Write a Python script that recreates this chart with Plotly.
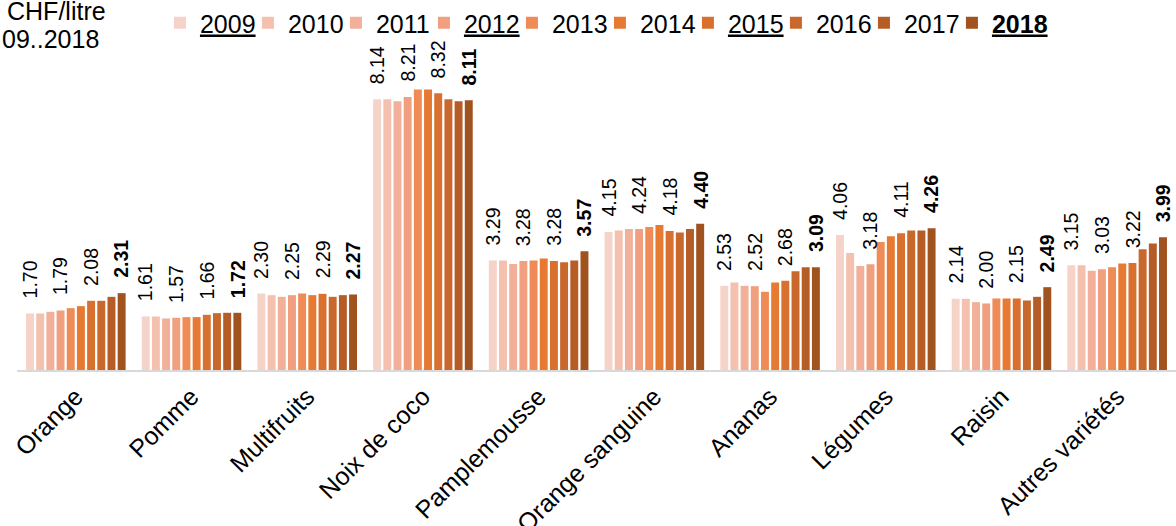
import plotly.graph_objects as go

categories = ["Orange", "Pomme", "Multifruits", "Noix de coco", "Pamplemousse",
              "Orange sanguine", "Ananas", "Légumes", "Raisin", "Autres variétés"]
years = ["2009", "2010", "2011", "2012", "2013", "2014", "2015", "2016", "2017", "2018"]
labelled_years = ["2009", "2012", "2015", "2018"]

# values per category, 2009..2018 (CHF/litre)
orange = [1.70, 1.70, 1.75, 1.79, 1.86, 1.92, 2.08, 2.08, 2.20, 2.31]
pomme = [1.61, 1.61, 1.55, 1.57, 1.59, 1.59, 1.66, 1.71, 1.72, 1.72]
multifruits = [2.30, 2.25, 2.20, 2.25, 2.30, 2.25, 2.29, 2.20, 2.25, 2.27]
noix_de_coco = [8.14, 8.14, 8.08, 8.21, 8.43, 8.43, 8.32, 8.14, 8.08, 8.11]
pamplemousse = [3.29, 3.29, 3.19, 3.28, 3.29, 3.35, 3.28, 3.24, 3.29, 3.57]
orange_sanguine = [4.15, 4.19, 4.24, 4.24, 4.30, 4.36, 4.18, 4.13, 4.24, 4.40]
ananas = [2.53, 2.63, 2.53, 2.52, 2.35, 2.63, 2.68, 2.97, 3.09, 3.09]
legumes = [4.06, 3.52, 3.13, 3.18, 3.85, 4.02, 4.11, 4.19, 4.19, 4.26]
raisin = [2.14, 2.14, 2.04, 2.00, 2.15, 2.15, 2.15, 2.09, 2.20, 2.49]
autres_varietes = [3.15, 3.15, 2.98, 3.03, 3.09, 3.20, 3.22, 3.63, 3.80, 3.99]

series_by_category = [orange, pomme, multifruits, noix_de_coco, pamplemousse,
                      orange_sanguine, ananas, legumes, raisin, autres_varietes]

colors = ["#F6D3C8", "#F4C1AF", "#F2B09A", "#F0A07F", "#EE8B57",
          "#E67A33", "#D8702F", "#C8682C", "#B65C26", "#A0521F"]

FONT = "Arial, 'Liberation Sans', sans-serif"
BARGAP = 0.12
BARGROUPGAP = 0.22

fig = go.Figure()
n_years = len(years)
group_width = 1 - BARGAP
slot = group_width / n_years

for i, year in enumerate(years):
    vals = [cat[i] for cat in series_by_category]
    if year == "2018":
        name = f"<b><u>{year}</u></b>"
    elif year in labelled_years:
        name = f"<u>{year}</u>"
    else:
        name = year
    bar_kw = {}
    if year == "2018":
        bar_kw["legendwidth"] = 62
    fig.add_trace(go.Bar(
        x=categories, y=vals, name=name,
        marker=dict(color=colors[i], line=dict(width=0)),
        hoverinfo="x+y+name", **bar_kw,
    ))
    # value labels for the highlighted years, placed at each bar's slot
    if year in labelled_years:
        offset = -group_width / 2 + slot * (i + 0.5)
        for j, v in enumerate(vals):
            txt = f"<b>{v:.2f}</b>" if year == "2018" else f"{v:.2f}"
            fig.add_annotation(
                x=j + offset, y=v, xref="x", yref="y",
                text=txt, textangle=-90, showarrow=False,
                xanchor="center", yanchor="bottom", yshift=13,
                font=dict(family=FONT, size=19.5, color="#000000"),
            )

fig.add_annotation(text="CHF/litre", xref="paper", yref="paper",
                   x=-0.0103, y=1.122, xanchor="left", yanchor="middle",
                   showarrow=False, font=dict(family=FONT, size=25, color="#000000"))
fig.add_annotation(text="09..2018", xref="paper", yref="paper",
                   x=-0.0146, y=1.035, xanchor="left", yanchor="middle",
                   showarrow=False, font=dict(family=FONT, size=25, color="#000000"))

fig.update_layout(
    width=1176, height=526,
    margin=dict(l=17, r=0, t=50, b=156, autoexpand=False),
    paper_bgcolor="white", plot_bgcolor="white",
    barmode="group", bargap=BARGAP, bargroupgap=BARGROUPGAP,
    font=dict(family=FONT, color="#000000"),
    showlegend=True,
    legend=dict(orientation="h", xref="container", yref="container",
                x=0.136, y=1.0, xanchor="left", yanchor="top",
                entrywidth=43, entrywidthmode="pixels",
                font=dict(family=FONT, size=25, color="#000000"),
                traceorder="normal", bgcolor="rgba(0,0,0,0)",
                itemclick=False, itemdoubleclick=False),
    xaxis=dict(showline=True, linecolor="#D9D9D9", linewidth=2,
               tickangle=-45, ticks="", showgrid=False, zeroline=False,
               tickfont=dict(family=FONT, size=25, color="#000000"),
               automargin=False, fixedrange=True),
    yaxis=dict(range=[0, 9.62], visible=False, showgrid=False,
               zeroline=False, fixedrange=True),
)

fig.write_html("out.html", config={"displayModeBar": False},
               post_script="document.body.style.margin='0';")
